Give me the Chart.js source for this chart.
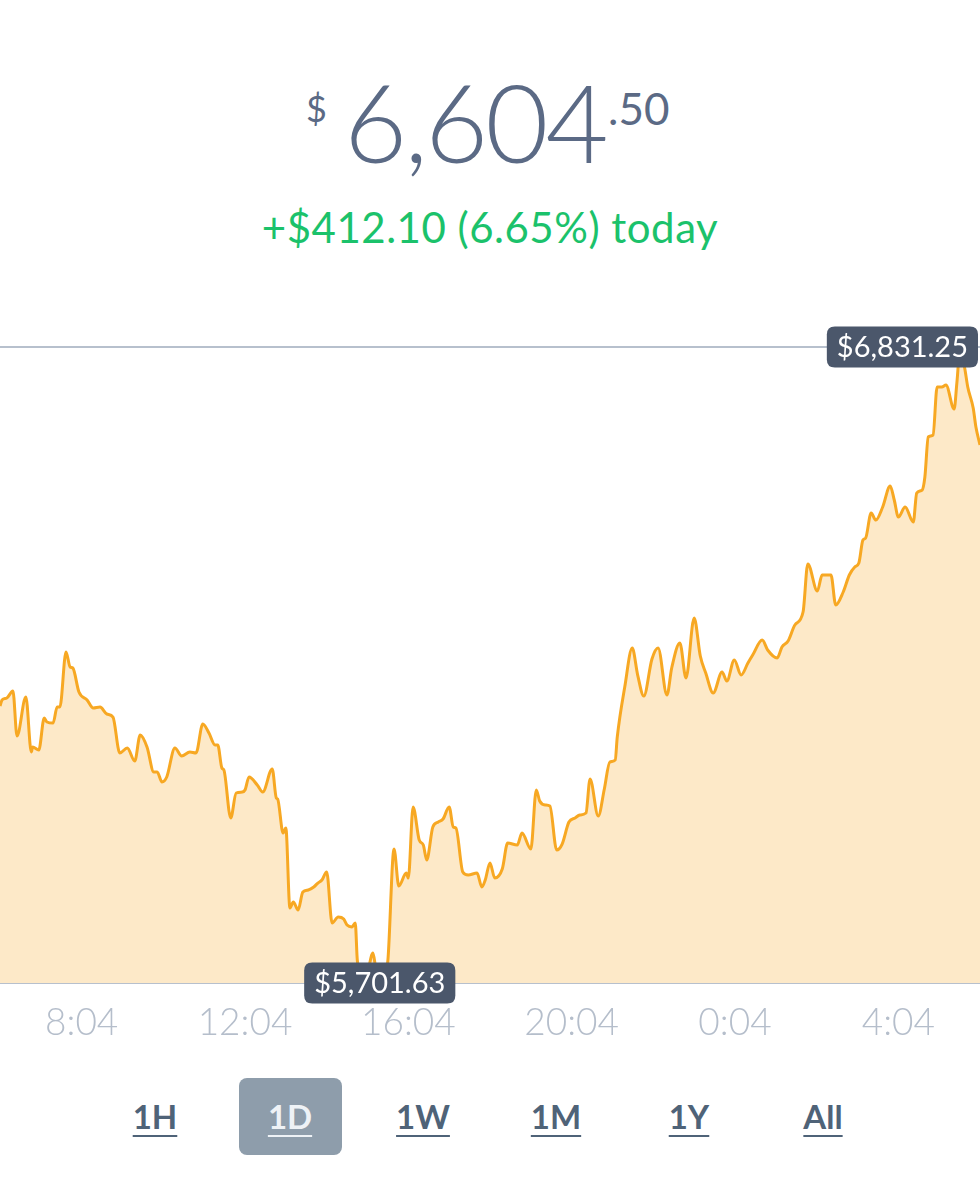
<!DOCTYPE html>
<html>
<head>
<meta charset="utf-8">
<script src="https://cdn.jsdelivr.net/npm/chart.js@4"></script>
<style>
  html,body{margin:0;padding:0;background:#fff;}
  body{width:980px;height:1200px;position:relative;overflow:hidden;font-family:Lato,"Open Sans",sans-serif;}
  .abs{position:absolute;white-space:nowrap;}
  #cur{color:#5b6a85;font-weight:300;}
  #dollar{left:306px;top:90px;font-size:36px;line-height:36px;font-weight:400;}
  #whole{left:344px;top:66px;font-size:109px;line-height:109px;letter-spacing:-3px;}
  #cents{left:608px;top:86px;font-size:44px;line-height:44px;font-weight:400;}
  #chg{left:0;width:980px;text-align:center;top:206px;font-size:42px;line-height:42px;color:#1bc26b;letter-spacing:0.5px;}
  #canvasWrap{position:absolute;left:0;top:300px;width:980px;height:760px;}
  .btn{position:absolute;top:1078px;height:77px;width:103px;text-align:center;line-height:77px;font-size:33px;font-weight:700;color:#4f6378;text-decoration:underline;text-decoration-thickness:2px;text-underline-offset:6px;border-radius:8px;}
  .btn.sel{background:#8e9dab;color:#eef2f6;}
</style>
</head>
<body>
<div id="cur">
  <span class="abs" id="dollar">$</span>
  <span class="abs" id="whole"></span>
  <span class="abs" id="cents"></span>
</div>
<div class="abs" id="chg"></div>
<div id="canvasWrap"><canvas id="c" width="980" height="760"></canvas></div>
<div id="btns"></div>
<script>
// ---- data ----
const currentPrice = 6604.50;
const changeToday = 412.10;
const changePct = 6.65;
const tickLabels = ['8:04','12:04','16:04','20:04','0:04','4:04'];
const tickMinutes = [120,360,600,840,1080,1320];   // minutes after 6:04
const ranges = ['1H','1D','1W','1M','1Y','All'];
const selectedRange = '1D';
// minutes after 6:04 (start of the 24h window)
const times = [0,3,10,19,25,38,46,48,57,65,69,78,84,88,97,103,107,116,128,137,147,157,166,176,187,198,206,216,226,231,238,245,257,267,279,288,298,307,316,320,326,329,339,347,356,360,366,378,386,400,406,408,416,420,426,431,438,445,453,461,467,473,480,488,497,505,510,517,522,525,532,539,548,552,558,566,570,579,586,597,600,607,616,622,627,636,644,651,660,666,670,680,688,701,708,713,720,727,738,746,760,767,780,788,793,801,808,818,826,836,845,852,861,867,879,888,896,904,907,918,929,937,946,958,967,980,987,999,1008,1020,1029,1037,1048,1061,1068,1079,1089,1099,1106,1120,1128,1142,1149,1158,1168,1180,1187,1201,1208,1221,1228,1239,1248,1256,1262,1268,1272,1280,1287,1297,1308,1314,1320,1330,1342,1347,1355,1359,1364,1371,1377,1384,1390,1402,1406,1411,1418,1422,1430,1434,1440];
const prices = [6193.6,6204.3,6207.8,6220.2,6140.3,6209.6,6111.9,6120.8,6115.4,6172.3,6165.2,6163.4,6191.8,6191.8,6289.5,6262.9,6261.1,6218.5,6204.3,6190.0,6191.8,6179.4,6174.0,6110.1,6119.0,6095.9,6142.1,6120.8,6076.4,6076.4,6058.6,6067.5,6119.0,6104.8,6111.9,6110.1,6161.6,6145.6,6124.3,6124.3,6083.5,6079.9,5994.7,6039.1,6040.8,6044.4,6067.5,6053.3,6040.8,6081.7,6030.2,6028.4,5968.0,5976.9,5834.8,5845.5,5831.3,5863.2,5866.8,5872.1,5879.2,5884.5,5898.8,5808.2,5818.8,5815.3,5804.6,5801.1,5808.2,5742.5,5710.5,5715.8,5754.9,5728.3,5701.63,5715.8,5742.5,5939.6,5873.9,5897.0,5888.1,6014.2,5955.6,5946.7,5920.1,5978.7,5987.6,5992.9,6014.2,5978.7,5976.9,5898.8,5893.4,5897.0,5872.1,5884.5,5914.7,5888.1,5904.1,5950.3,5946.7,5968.0,5939.6,6044.4,6024.9,6017.8,6016.0,5937.8,5948.5,5987.6,5994.7,6000.0,6003.5,6063.9,5998.2,6046.2,6094.1,6097.7,6138.5,6227.3,6296.6,6248.6,6211.3,6277.1,6296.6,6213.1,6261.1,6305.5,6243.3,6349.9,6282.4,6252.2,6216.7,6254.0,6238.0,6275.3,6248.6,6270.0,6284.2,6310.8,6293.1,6278.8,6298.4,6309.0,6337.5,6360.5,6445.8,6397.8,6426.3,6426.3,6373.0,6396.1,6426.3,6440.5,6447.6,6488.4,6492.0,6536.4,6523.9,6547.0,6584.3,6559.5,6529.3,6547.0,6520.4,6571.9,6577.2,6600.3,6671.4,6674.9,6760.2,6760.2,6763.7,6721.1,6767.3,6831.25,6790.4,6760.2,6722.9,6689.1,6657.2];

// ---- header ----
const fmt = v => v.toLocaleString('en-US',{minimumFractionDigits:2,maximumFractionDigits:2});
const curStr = fmt(currentPrice).split('.');
document.getElementById('whole').textContent = curStr[0];
document.getElementById('cents').textContent = '.' + curStr[1];
document.getElementById('chg').textContent = '+$' + fmt(changeToday) + ' (' + changePct.toFixed(2) + '%) today';

const btnCenters = [155,290,423,556,689,823];
const bw = document.getElementById('btns');
ranges.forEach((r,i)=>{
  const d = document.createElement('div');
  d.className = 'btn' + (r===selectedRange?' sel':'');
  d.style.left = (btnCenters[i]-51.5)+'px';
  d.textContent = r;
  bw.appendChild(d);
});

// ---- chart ----
const minV = Math.min(...prices), maxV = Math.max(...prices);
const minT = times[prices.indexOf(minV)], maxT = times[prices.indexOf(maxV)];

function roundRect(ctx,x,y,w,h,r){
  ctx.beginPath();
  ctx.moveTo(x+r,y);ctx.lineTo(x+w-r,y);ctx.quadraticCurveTo(x+w,y,x+w,y+r);
  ctx.lineTo(x+w,y+h-r);ctx.quadraticCurveTo(x+w,y+h,x+w-r,y+h);
  ctx.lineTo(x+r,y+h);ctx.quadraticCurveTo(x,y+h,x,y+h-r);
  ctx.lineTo(x,y+r);ctx.quadraticCurveTo(x,y,x+r,y);ctx.closePath();
}

const extremes = {
  id:'extremes',
  beforeDatasetsDraw(chart){
    const {ctx, chartArea:a, scales:{y}} = chart;
    ctx.save();
    ctx.strokeStyle = '#b7c0cd';
    ctx.lineWidth = 2;
    [maxV,minV].forEach(v=>{
      const py = Math.round(y.getPixelForValue(v));
      ctx.beginPath();ctx.moveTo(a.left,py);ctx.lineTo(a.right,py);ctx.stroke();
    });
    ctx.restore();
  },
  afterDatasetsDraw(chart){
    const {ctx, width, scales:{x,y}} = chart;
    ctx.save();
    ctx.font = '400 29px Lato, "Open Sans", sans-serif';
    [[maxV,maxT],[minV,minT]].forEach(([v,t])=>{
      const txt = '$' + fmt(v);
      const w = ctx.measureText(txt).width + 20, h = 41;
      let cx = x.getPixelForValue(t);
      cx = Math.max(w/2+2, Math.min(width - w/2 - 2, cx));
      const cy = y.getPixelForValue(v);
      roundRect(ctx, cx-w/2, cy-h/2, w, h, 8);
      ctx.fillStyle = '#4b576b';
      ctx.fill();
      ctx.fillStyle = '#ffffff';
      ctx.textAlign = 'center';
      ctx.textBaseline = 'middle';
      ctx.fillText(txt, cx, cy+1);
    });
    ctx.restore();
  }
};

new Chart(document.getElementById('c'), {
  type:'line',
  data:{
    datasets:[{
      data: times.map((t,i)=>({x:t,y:prices[i]})),
      borderColor:'#f7a823',
      backgroundColor:'#fde9c8',
      borderWidth:3,
      fill:'start',
      pointRadius:0,
      cubicInterpolationMode:'monotone'
    }]
  },
  options:{
    responsive:false,
    animation:false,
    events:[],
    layout:{padding:{top:47,left:0,right:0,bottom:0}},
    plugins:{legend:{display:false},tooltip:{enabled:false}},
    scales:{
      x:{
        type:'linear', min:0, max:1440,
        grid:{display:false, drawTicks:false},
        border:{display:false},
        afterBuildTicks: s => { s.ticks = tickMinutes.map(v=>({value:v})); },
        afterFit: s => { s.height = 77; },
        ticks:{
          autoSkip:false, maxRotation:0, padding:18,
          color:'#b5becb',
          font:{family:'Lato, "Open Sans", sans-serif', size:37, weight:'300'},
          callback:(v,i)=>tickLabels[i]
        }
      },
      y:{ display:false, min:minV, max:maxV }
    }
  },
  plugins:[extremes]
});
</script>
</body>
</html>
